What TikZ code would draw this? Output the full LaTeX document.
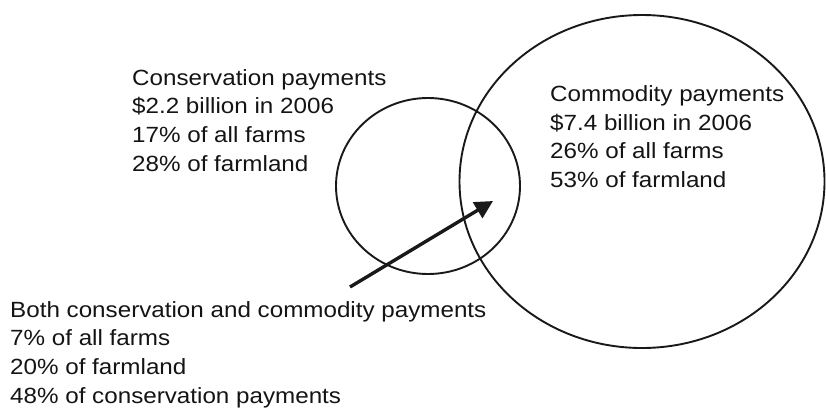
\documentclass[tikz,border=0pt]{standalone}
\usepackage{fontspec}
\setmainfont{Liberation Sans}[FakeStretch=1.1]
\usetikzlibrary{positioning, arrows.meta, shapes.geometric}

\begin{document}
\begin{tikzpicture}
                      [x=1pt, y=-1pt, text=black!92,
                       label/.style={align=left, anchor=base west, inner sep=0pt,
                                     font=\fontsize{22}{28.6}\selectfont},
                       set/.style={draw, ellipse, line width=1.9pt, inner sep=0pt, black!90}]
                      \useasboundingbox (0,0) rectangle (826,408);
                      % sets %
                      \node[set, minimum width=184pt, minimum height=176pt] (cons) at (428,186) {};
                      \node[set, minimum width=365pt, minimum height=333pt] (comm) at (642,181.5) {};

                      % labels %
                      \node[label] (consl) at (132,171) {Conservation payments\\\$2.2 billion in 2006\\17\% of all farms\\28\% of farmland};
                      \node[label] (comml) at (550,187.5) {Commodity payments\\\$7.4 billion in 2006\\26\% of all farms\\53\% of farmland};
                      \node[label] (both) at (10,403) {Both conservation and commodity payments\\7\% of all farms\\20\% of farmland\\48\% of conservation payments};

                      % edges %
                      \coordinate (start) at (350,287);
                      \coordinate (overlap) at (493,201);
                      \draw[-{Triangle[length=18pt, width=18pt]}, line width=3.4pt, black!90] (start) -- (overlap);
                    \end{tikzpicture}
\end{document}
